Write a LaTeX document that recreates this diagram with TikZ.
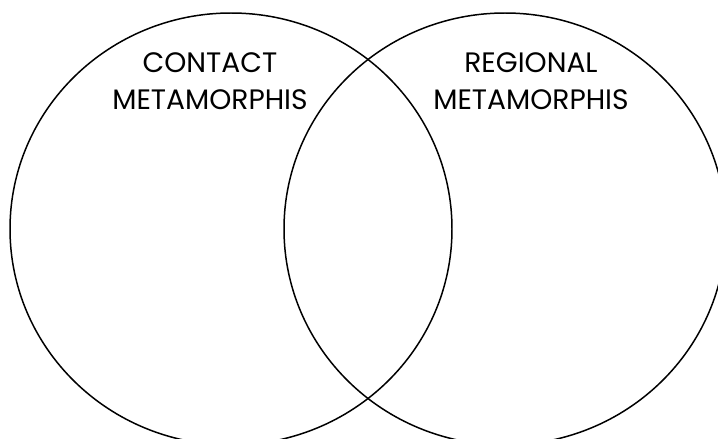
\documentclass[tikz,border=0pt]{standalone}
\usepackage{fontspec}
\setmainfont{Poppins}

\begin{document}
\begin{tikzpicture}[
  x=0.02cm, y=-0.02cm,
  setline/.style={line width=0.85pt, black},
  settitle/.style={inner sep=0pt, anchor=north, align=center,
    font=\fontsize{16}{21.5}\selectfont},
]
\useasboundingbox (0,0) rectangle (718,439);
\clip (0,0) rectangle (718,439);
% the two sets
\draw[setline] (231,229) ellipse[x radius=221, y radius=216];
\draw[setline] (505,229) ellipse[x radius=221, y radius=216];
% their names
\node[settitle] (contact) at (210,52) {CONTACT\\METAMORPHIS};
\node[settitle] (regional) at (531,52) {REGIONAL\\METAMORPHIS};
\end{tikzpicture}
\end{document}
